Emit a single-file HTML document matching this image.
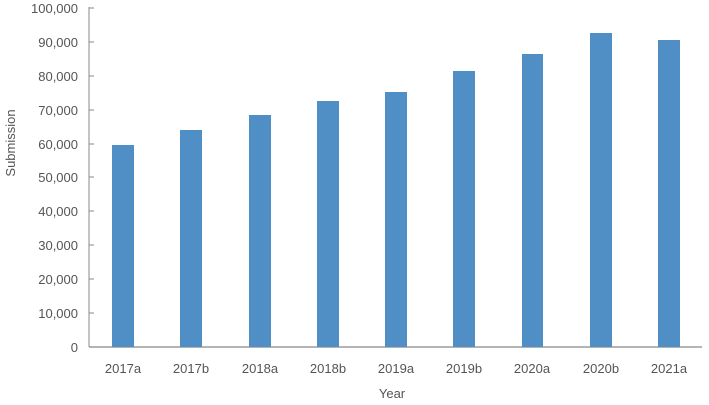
<!DOCTYPE html>
<html><head><style>body{margin:0;background:#fff}svg text{font-family:"Liberation Sans",sans-serif;fill:#555;font-size:13px}</style></head>
<body>
<svg width="709" height="400" xmlns="http://www.w3.org/2000/svg">
<line x1="89" y1="7" x2="89" y2="347" stroke="#888" stroke-width="1"/>
<line x1="89" y1="347" x2="702" y2="347" stroke="#888" stroke-width="1.2"/>
<g stroke="#888">
<line x1="89" x2="94" y1="8" y2="8"/><line x1="89" x2="94" y1="42" y2="42"/><line x1="89" x2="94" y1="76" y2="76"/><line x1="89" x2="94" y1="110" y2="110"/><line x1="89" x2="94" y1="144" y2="144"/><line x1="89" x2="94" y1="177" y2="177"/><line x1="89" x2="94" y1="211" y2="211"/><line x1="89" x2="94" y1="245" y2="245"/><line x1="89" x2="94" y1="279" y2="279"/><line x1="89" x2="94" y1="313" y2="313"/>
</g>
<g text-anchor="end">
<text x="78" y="13">100,000</text><text x="78" y="47">90,000</text><text x="78" y="81">80,000</text><text x="78" y="115">70,000</text><text x="78" y="149">60,000</text><text x="78" y="182">50,000</text><text x="78" y="216">40,000</text><text x="78" y="250">30,000</text><text x="78" y="284">20,000</text><text x="78" y="318">10,000</text><text x="78" y="352">0</text>
</g>
<g fill="#4f8fc6">
<rect x="112" y="145" width="22" height="202"/>
<rect x="180" y="130" width="22" height="217"/>
<rect x="249" y="115" width="22" height="232"/>
<rect x="317" y="101" width="22" height="246"/>
<rect x="385" y="92" width="22" height="255"/>
<rect x="453" y="71" width="22" height="276"/>
<rect x="522" y="54" width="21" height="293"/>
<rect x="590" y="33" width="22" height="314"/>
<rect x="658" y="40" width="22" height="307"/>
</g>
<g text-anchor="middle">
<text x="123" y="373">2017a</text><text x="191" y="373">2017b</text><text x="260" y="373">2018a</text><text x="328" y="373">2018b</text><text x="396" y="373">2019a</text><text x="464" y="373">2019b</text><text x="532" y="373">2020a</text><text x="601" y="373">2020b</text><text x="669" y="373">2021a</text>
<text x="392" y="398">Year</text>
<text transform="translate(15,143) rotate(-90)">Submission</text>
</g>
</svg>
</body></html>
